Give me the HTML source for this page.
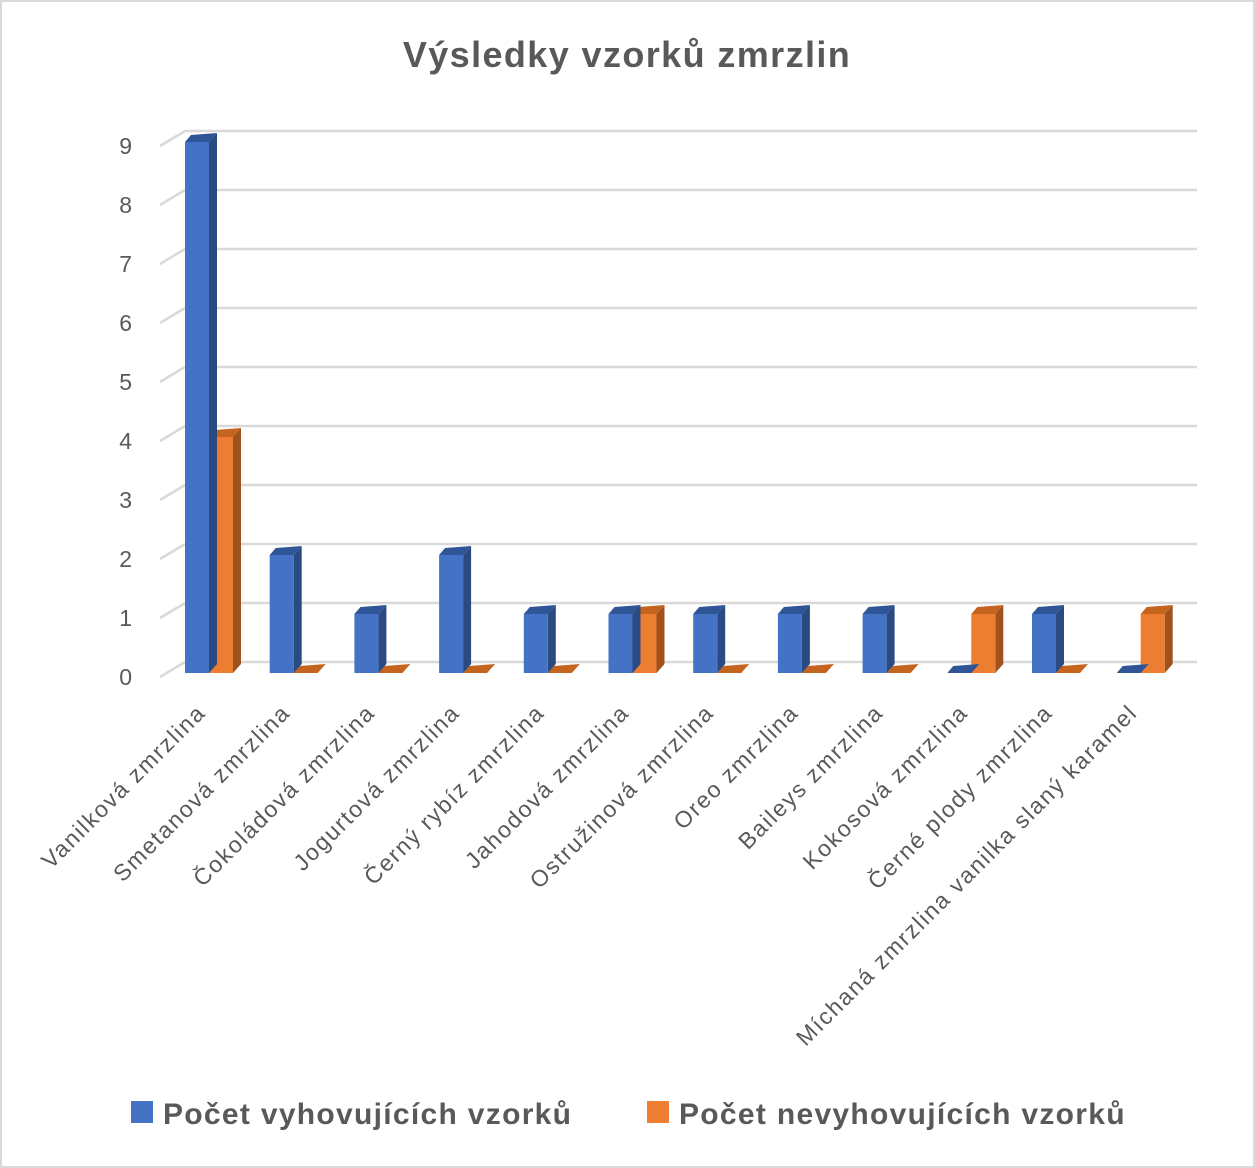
<!DOCTYPE html>
<html><head><meta charset="utf-8"><style>
body{margin:0;background:#fff}
svg{display:block;font-family:"Liberation Sans",sans-serif}
</style></head><body>
<svg width="1255" height="1168">
<rect x="1" y="1" width="1253" height="1166" fill="#fff" stroke="#d9d9d9" stroke-width="2"/>
<text x="627" y="67" text-anchor="middle" font-size="36" font-weight="bold" fill="#595959" letter-spacing="1.4">Výsledky vzorků zmrzlin</text>
<g id="grid"></g><g id="bars"></g><g id="labels"></g>
<g>
<rect x="131" y="1101" width="22" height="22" fill="#4472c4"/>
<text x="163" y="1124" font-size="30" font-weight="bold" fill="#595959" letter-spacing="1.3">Počet vyhovujících vzorků</text>
<rect x="647" y="1101" width="22" height="22" fill="#ed7d31"/>
<text x="679" y="1124" font-size="30" font-weight="bold" fill="#595959" letter-spacing="1.3">Počet nevyhovujících vzorků</text>
</g>
</svg>
<script>
const categories=["Vanilková zmrzlina","Smetanová zmrzlina","Čokoládová zmrzlina","Jogurtová zmrzlina","Černý rybíz zmrzlina","Jahodová zmrzlina","Ostružinová zmrzlina","Oreo zmrzlina","Baileys zmrzlina","Kokosová zmrzlina","Černé plody zmrzlina","Míchaná zmrzlina vanilka slaný karamel"];
const passValues=[9,2,1,2,1,1,1,1,1,0,1,0];
const failValues=[4,0,0,0,0,1,0,0,0,1,0,1];
const yTicks=[0,1,2,3,4,5,6,7,8,9];
const NS="http://www.w3.org/2000/svg";
function el(t,a,p){const e=document.createElementNS(NS,t);for(const k in a)e.setAttribute(k,a[k]);p.appendChild(e);return e;}
const y0=673,unit=59,dx=8,dy=11;
const yScale=v=>y0-v*unit;
const xScale=i=>185+84.7*i;
const grid=document.getElementById('grid'),bars=document.getElementById('bars'),labels=document.getElementById('labels');
yTicks.forEach(v=>{
 const y=yScale(v);
 const g=el('line',{x1:185,y1:y-dy,x2:1197,y2:y-dy,stroke:'#d9d9d9','stroke-width':2.5},grid);
 
 
 const d=el('line',{x1:160,y1:y+4,x2:185,y2:y-dy,stroke:'#d9d9d9','stroke-width':2.5},grid);
 
 
 const t=el('text',{x:132,y:y+12,'text-anchor':'end','font-size':23,fill:'#595959'},grid);
 t.textContent=v;
 
 
});
function bar(x,v,front,side,top,name){
 const w=24,yt=yScale(v);
 const g=el('g',{},bars);
 
 
 el('polygon',{points:`${x+w},${y0} ${x+w+dx},${y0-dy+2} ${x+w+dx},${yt-dy+2} ${x+w},${yt}`,fill:side},g);
 el('polygon',{points:`${x},${yt} ${x+dx-2},${yt-dy+4} ${x+w+dx},${yt-dy+2} ${x+w},${yt}`,fill:top},g);
 if(v>0)el('rect',{x:x,y:yt,width:w,height:y0-yt,fill:front},g);
}
categories.forEach((c,i)=>{
 const x=xScale(i);
 bar(x+24,failValues[i],'#ed7d31','#a0521c','#c5641f','bar-fail-'+i);
 bar(x,passValues[i],'#4472c4','#2a4a82','#2f5597','bar-pass-'+i);
 const lx=x+22,ly=714;
 const t=el('text',{x:lx,y:ly,'text-anchor':'end','font-size':23,'letter-spacing':1.7,fill:'#595959',transform:`rotate(-45 ${lx} ${ly})`},labels);
 t.textContent=c;
 
 
});
</script>
</body></html>
